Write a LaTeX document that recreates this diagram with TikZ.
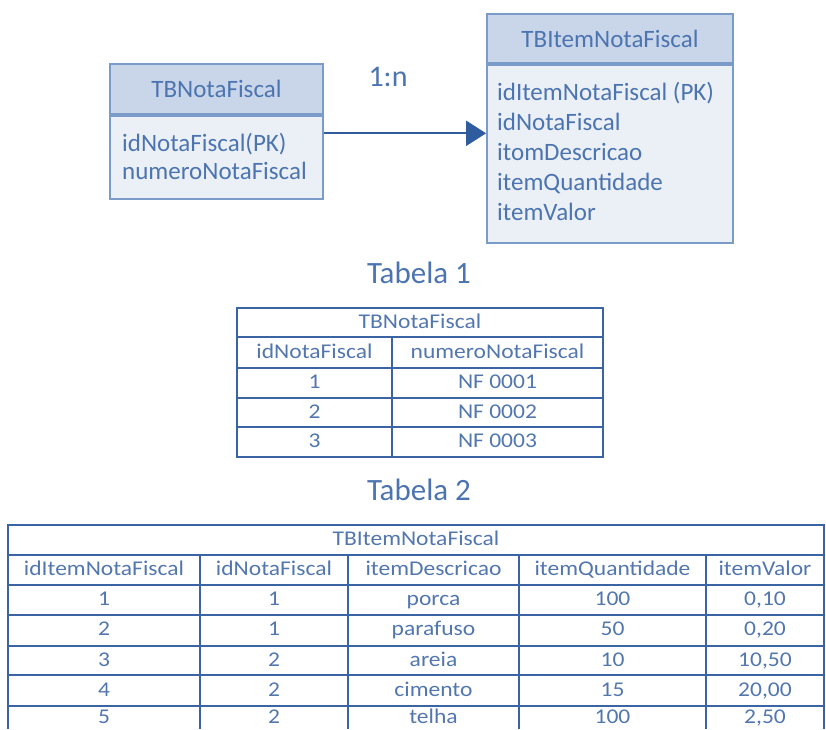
\documentclass[tikz,border=0pt]{standalone}
\usepackage{fontspec}
\setmainfont{Carlito}
\newfontfamily\tabfont[FakeStretch=1.12]{Carlito}
\usetikzlibrary{arrows.meta,positioning,calc}
\definecolor{erline}{HTML}{7B9CC9}
\definecolor{erhead}{HTML}{C9D6E9}
\definecolor{erbody}{HTML}{EBF0F7}
\definecolor{ertext}{HTML}{4C74B0}
\definecolor{relblue}{HTML}{2F5C9E}
\definecolor{tabline}{HTML}{3A64A4}
\definecolor{tabtext}{HTML}{5276AE}

\begin{document}
\begin{tikzpicture}[x=1pt,y=-1pt,
  erhd/.style={draw=erline,fill=erhead,line width=1.8pt,inner sep=0pt,text=ertext,
    font=\fontsize{25}{30}\selectfont},
  erbd/.style={draw=erline,fill=erbody,line width=1.8pt,inner sep=0pt},
  erattr/.style={anchor=west,inner sep=0pt,text height=18pt,text depth=5pt,text=ertext,
    font=\fontsize{25}{30}\selectfont},
  caption/.style={text=ertext,font=\fontsize{31}{36}\selectfont},
  tabgrid/.style={draw=tabline,line width=1.7pt},
  cell/.style={inner sep=0pt,text height=15pt,text depth=4pt,text=tabtext,
    font=\tabfont\fontsize{21}{25}\selectfont}]
\useasboundingbox (0,0) rectangle (826,729);

% modelo
\node[erhd,minimum width=213pt,minimum height=50pt] (nfhead) at (216.5,89) {TBNotaFiscal};
\node[erbd,minimum width=213pt,minimum height=83pt,below=0pt of nfhead] (nfbody) {};
\node[erattr] (nfpk) at (122,145) {idNotaFiscal(PK)};
\node[erattr] (nfnum) at (122,173) {numeroNotaFiscal};

\node[erhd,minimum width=246pt,minimum height=49pt] (itemhead) at (610,38.5) {TBItemNotaFiscal};
\node[erbd,minimum width=246pt,minimum height=178pt,below=0pt of itemhead] (itembody) {};
\node[erattr] (itempk) at (497,94) {idItemNotaFiscal (PK)};
\node[erattr] (itemfk) at (497,124) {idNotaFiscal};
\node[erattr] (itemdesc) at (497,154) {itomDescricao};
\node[erattr] (itemqt) at (497,184) {itemQuantidade};
\node[erattr] (itemval) at (497,214) {itemValor};

\coordinate (relstart) at ($(nfbody.north east)!0.217!(nfbody.south east)$);
\draw[relblue,line width=2.2pt,-{Triangle[length=20pt,width=25pt]}]
  (relstart) -- (relstart -| itembody.west);
\node[text=ertext,font=\fontsize{30}{34}\selectfont] (card) at (388,77) {1:n};

% Tabela 1
\node[caption] (cap1) at (419,273) {Tabela 1};
\draw[tabgrid] (237,308) rectangle (603,457);
\foreach \y in {337,368,398,427} \draw[tabgrid] (237,\y) -- (603,\y);
\draw[tabgrid] (392,337) -- (392,457);
\node[cell] (t1title) at (420,322.5) {TBNotaFiscal};
\node[cell] (t1colid) at (314.5,352.5) {idNotaFiscal};
\node[cell] (t1colnum) at (497.5,352.5) {numeroNotaFiscal};
\foreach \n/\y in {1/383,2/412.5,3/442} {
  \node[cell] (t1id\n) at (314.5,\y) {\n};
  \node[cell] (t1num\n) at (497.5,\y) {NF 000\n};
}

% Tabela 2
\node[caption] (cap2) at (419,490) {Tabela 2};
\draw[tabgrid] (8,729) -- (8,525) -- (824,525) -- (824,729);
\foreach \y in {555,585,615,646,675,706} \draw[tabgrid] (8,\y) -- (824,\y);
\foreach \x in {200,348,519,706} \draw[tabgrid] (\x,555) -- (\x,729);
\node[cell] (t2title) at (416,540) {TBItemNotaFiscal};
\node[cell] (t2colitem) at (104,570) {idItemNotaFiscal};
\node[cell] (t2colnf) at (274,570) {idNotaFiscal};
\node[cell] (t2coldesc) at (433.5,570) {itemDescricao};
\node[cell] (t2colqt) at (612.5,570) {itemQuantidade};
\node[cell] (t2colval) at (765,570) {itemValor};
\foreach \n/\nf/\desc/\qt/\val/\y in {1/1/porca/100/{0,10}/600,2/1/parafuso/50/{0,20}/630,
    3/2/areia/10/{10,50}/660.5,4/2/cimento/15/{20,00}/690.5,5/2/telha/100/{2,50}/718} {
  \node[cell] (t2item\n) at (104,\y) {\n};
  \node[cell] (t2nf\n) at (274,\y) {\nf};
  \node[cell] (t2desc\n) at (433.5,\y) {\desc};
  \node[cell] (t2qt\n) at (612.5,\y) {\qt};
  \node[cell] (t2val\n) at (765,\y) {\val};
}
\end{tikzpicture}
\end{document}
